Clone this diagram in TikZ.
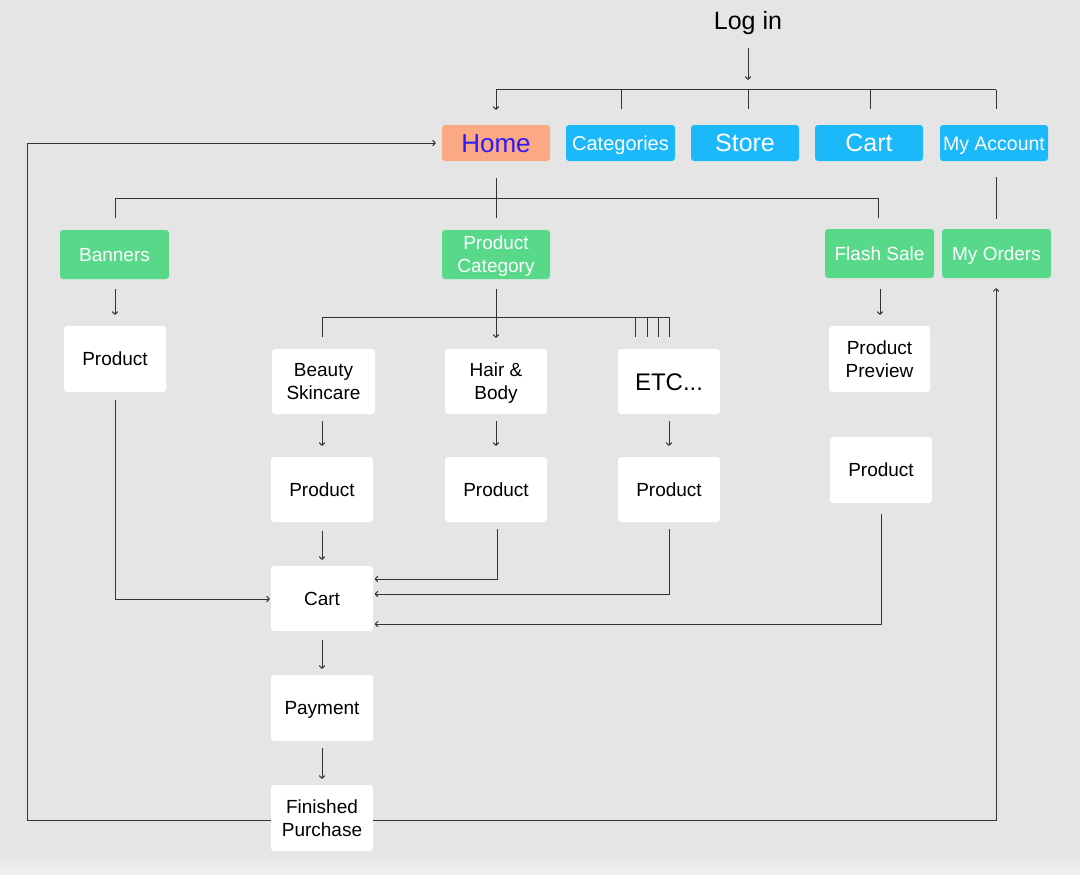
\documentclass[tikz,border=0pt]{standalone}
\usepackage{fontspec}
\setmainfont{Liberation Sans}
\usetikzlibrary{arrows.meta,calc}
\definecolor{bgc}{HTML}{E5E5E5}
\definecolor{grn}{HTML}{58D98A}
\definecolor{blu}{HTML}{1CB9FA}
\definecolor{salm}{HTML}{FBA984}
\definecolor{hometxt}{HTML}{2B1CF5}
\definecolor{linec}{HTML}{333333}
\begin{document}
\begin{tikzpicture}[x=1pt,y=-1pt,
  box/.style={rounded corners=3pt, inner sep=0pt, align=center, font=\fontsize{19}{23}\selectfont},
  sl/.style={text height=#1, text depth=0pt},
  sl/.default=13.6pt,
  ml/.style={text height=36.6pt, text depth=0pt},
  wbox/.style={box, fill=white, minimum width=102pt, minimum height=66pt},
  gbox/.style={box, fill=grn, text=white, minimum width=109pt, minimum height=49pt},
  bbox/.style={box, fill=blu, text=white, minimum width=108pt, minimum height=36pt},
  conn/.style={draw=linec, line width=1pt},
  arr/.style={conn, -{To[length=3.5pt,width=6pt]}}]
\fill[bgc] (0,0) rectangle (1080,875);
\shade[top color=bgc, bottom color=black!6] (0,852) rectangle (1080,875);
\useasboundingbox (0,0) rectangle (1080,875);

% nodes
\node[font=\fontsize{25}{30}\selectfont, inner sep=0pt] (login) at (748,23) {Log in};
\node[bbox, sl=18.6pt, fill=salm, text=hometxt, font=\fontsize{26}{30}\selectfont] (home) at (496,143) {Home};
\node[bbox, sl=14.3pt, minimum width=109pt, font=\fontsize{20}{24}\selectfont] (cat) at (620.5,143) {Categories};
\node[bbox, sl=17.9pt, font=\fontsize{25}{30}\selectfont] (store) at (745,143) {Store};
\node[bbox, sl=17.9pt, font=\fontsize{25}{30}\selectfont] (cartt) at (869,143) {Cart};
\node[bbox, sl=14pt, font=\fontsize{19.5}{24}\selectfont] (acct) at (994,143) {My Account};

\node[gbox, sl] (banners) at (114.5,254.5) {Banners};
\node[gbox, ml, minimum width=108pt] (pcat) at (496,254.5) {Product\\Category};
\node[gbox, sl] (flash) at (879.5,253.5) {Flash Sale};
\node[gbox, sl] (orders) at (996.5,253.5) {My Orders};

\node[wbox, sl] (prod1) at (115,359) {Product};
\node[wbox, ml, minimum width=103pt, minimum height=65pt] (beauty) at (323.5,381.5) {Beauty\\Skincare};
\node[wbox, ml, minimum height=65pt] (hair) at (496,381.5) {Hair \&\\Body};
\node[wbox, sl=17.2pt, minimum height=65pt, font=\fontsize{24}{28}\selectfont] (etc) at (669,381.5) {ETC...};
\node[wbox, sl, minimum height=65pt] (prodB) at (322,489.5) {Product};
\node[wbox, sl, minimum height=65pt] (prodH) at (496,489.5) {Product};
\node[wbox, sl, minimum height=65pt] (prodE) at (669,489.5) {Product};
\node[wbox, ml, minimum width=101pt] (preview) at (879.5,359) {Product\\Preview};
\node[wbox, sl] (prodF) at (881,470) {Product};
\node[wbox, sl, minimum height=65pt] (cart) at (322,598.5) {Cart};
\node[wbox, sl] (payment) at (322,708) {Payment};
\node[wbox, ml] (finished) at (322,818) {Finished\\Purchase};

% top menu
\draw[arr] ($(login.south)+(0,13)$) -- ($(login.south)+(0,45)$);
\draw[conn] (496,90) -- (996,90);
\draw[arr] (496,90) -- ($(home.north)+(0,-15)$);
\draw[conn] (621,90) -- ($(cat.north)+(0.5,-16)$);
\draw[conn] (748,90) -- ($(store.north)+(3,-16)$);
\draw[conn] (870,90) -- ($(cartt.north)+(1,-16)$);
\draw[conn] (996,90) -- ($(acct.north)+(2,-16)$);

% home branch
\draw[conn] ($(home.south)+(0,17)$) -- ($(pcat.north)+(0,-12)$);
\draw[conn] ($(banners.north)+(0.5,-12)$) -- (115,198) -- (878,198) -- ($(flash.north)+(-1.5,-11)$);
\draw[conn] ($(acct.south)+(2,16)$) -- ($(orders.north)+(-0.5,-10)$);

% banners
\draw[arr] ($(banners.south)+(0.5,10)$) -- ($(prod1.north)+(0,-11)$);
\draw[arr] ($(prod1.south)+(0,8)$) |- ($(cart.west)+(-1,0.5)$);

% product category
\draw[arr] ($(pcat.south)+(0,10)$) -- ($(hair.north)+(0,-11)$);
\draw[conn] ($(beauty.north)+(-1.5,-12)$) -- (322,317) -- (669,317);
\foreach \xx in {635,647,658,669} \draw[conn] (\xx,317) -- (\xx,337);
\draw[arr] ($(beauty.south)+(-1.5,7)$) -- ($(prodB.north)+(0,-11)$);
\draw[arr] ($(hair.south)+(0,7)$) -- ($(prodH.north)+(0,-11)$);
\draw[arr] ($(etc.south)+(0,7)$) -- ($(prodE.north)+(0,-11)$);
\draw[arr] ($(prodB.south)+(0,9)$) -- ($(cart.north)+(0,-6)$);
\draw[arr] ($(prodH.south)+(1,7)$) |- ($(cart.east)+(1.5,-19.5)$);
\draw[arr] ($(prodE.south)+(0,7)$) |- ($(cart.east)+(1.5,-4.5)$);

% flash sale
\draw[arr] ($(flash.south)+(0.5,11)$) -- ($(preview.north)+(0.5,-11)$);
\draw[arr] ($(prodF.south)+(0,11)$) |- ($(cart.east)+(1.5,25.5)$);

% checkout
\draw[arr] ($(cart.south)+(0,9)$) -- ($(payment.north)+(0,-6)$);
\draw[arr] ($(payment.south)+(0,7)$) -- ($(finished.north)+(0,-6)$);
\draw[arr] ($(finished.west)+(0,2)$) -- (27,820) -- (27,143) -- ($(home.west)+(-6,0)$);
\draw[arr] ($(finished.east)+(0,2)$) -- (996,820) -- ($(orders.south)+(-0.5,10)$);
\end{tikzpicture}
\end{document}
